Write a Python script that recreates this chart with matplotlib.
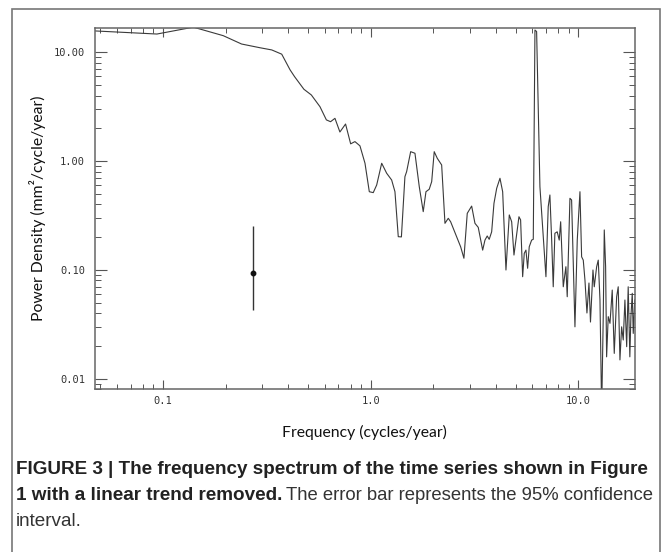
import matplotlib
matplotlib.use("Agg")
import matplotlib.pyplot as plt
from matplotlib.patches import Rectangle
from matplotlib.ticker import FixedLocator, LogLocator, NullFormatter
import numpy as np

# spectrum (cycles/year, mm^2/cycle/year)
freq = [0.0469, 0.0935, 0.140, 0.195, 0.239, 0.293, 0.334, 0.373, 0.409, 0.430,
        0.477, 0.518, 0.570, 0.612, 0.641, 0.673, 0.711, 0.757, 0.801, 0.840,
        0.888, 0.939, 0.985, 1.029, 1.069, 1.130, 1.194, 1.262, 1.309, 1.358,
        1.406, 1.462, 1.490, 1.558, 1.634, 1.714, 1.791, 1.846, 1.914, 1.967,
        2.023, 2.093, 2.197, 2.279, 2.364, 2.427, 2.594, 2.712, 2.812, 2.918,
        3.064, 3.178, 3.296, 3.462, 3.551, 3.641, 3.722, 3.825, 3.924, 4.044,
        4.194, 4.321, 4.482, 4.650, 4.775, 4.898, 5.176, 5.272, 5.393, 5.490,
        5.594, 5.699, 5.801, 5.958, 6.067, 6.181, 6.296, 6.531, 6.731, 6.982,
        7.161, 7.295, 7.44, 7.57, 7.71, 7.91, 8.09, 8.22, 8.46, 8.71,
        8.84, 9.11, 9.28, 9.45, 9.63, 9.88, 10.18, 10.37, 10.56, 10.76,
        11.00, 11.25, 11.44, 11.76, 11.93, 12.25, 12.47, 12.71, 12.95, 13.18,
        13.33, 13.53, 13.68, 13.93, 14.20, 14.56, 14.89, 15.29, 15.56, 15.86,
        16.16, 16.45, 16.76, 17.09, 17.38, 17.70, 17.91, 18.18, 18.38, 18.69]
power = [15.7, 14.7, 17.0, 14.2, 11.9, 11.0, 10.5, 9.6, 6.9, 5.97,
         4.57, 4.05, 3.16, 2.39, 2.30, 2.47, 1.85, 2.19, 1.44, 1.51,
         1.38, 0.955, 0.523, 0.513, 0.603, 0.955, 0.773, 0.670, 0.523, 0.202,
         0.201, 0.719, 0.800, 1.22, 1.18, 0.582, 0.343, 0.523, 0.551, 0.647,
         1.22, 1.06, 0.921, 0.268, 0.298, 0.277, 0.202, 0.163, 0.128, 0.331,
         0.386, 0.268, 0.246, 0.152, 0.188, 0.205, 0.191, 0.224, 0.409, 0.562,
         0.695, 0.523, 0.0998, 0.320, 0.277, 0.137, 0.308, 0.288, 0.0866, 0.142,
         0.152, 0.1035, 0.163, 0.188, 0.191, 16.0, 15.5, 0.582, 0.249, 0.0866,
         0.381, 0.488, 0.188, 0.070, 0.217, 0.224, 0.188, 0.277, 0.070, 0.107,
         0.0567, 0.455, 0.439, 0.115, 0.030, 0.188, 0.523, 0.132, 0.123, 0.0807,
         0.0402, 0.0758, 0.0332, 0.0998, 0.070, 0.107, 0.123, 0.0529, 0.005, 0.0372,
         0.233, 0.107, 0.0159, 0.0372, 0.0323, 0.0653, 0.0171, 0.0567, 0.070, 0.0149,
         0.030, 0.0227, 0.0529, 0.0197, 0.070, 0.0159, 0.0372, 0.061, 0.0261, 0.0529]

# 95% confidence error bar
err_f = 0.272
err_p = 0.093
err_lo = 0.0428
err_hi = 0.253

xticks = [0.1, 1.0, 10.0]
xticklabels = ["0.1", "1.0", "10.0"]
yticks = [0.01, 0.1, 1.0, 10.0]
yticklabels = ["0.01", "0.10", "1.00", "10.00"]

W, H = 668, 552
fig = plt.figure(figsize=(W / 100, H / 100), dpi=100)
ax = fig.add_axes([94.7 / W, 1 - 389.3 / H, (634.8 - 94.7) / W, (389.3 - 28) / H])

line_col = "#3a3a3a"
ax.plot(freq, power, color=line_col, lw=0.8)
ax.errorbar([err_f], [err_p], yerr=[[err_p - err_lo], [err_hi - err_p]],
            fmt="o", ms=3.2, color="#111111", ecolor="#333333", elinewidth=1.0, capsize=0)

ax.set_xscale("log")
ax.set_yscale("log")
ax.set_xlim(0.0469, 18.7)
ax.set_ylim(0.0080, 16.7)

ax.xaxis.set_major_locator(FixedLocator(xticks))
ax.set_xticklabels(xticklabels)
ax.yaxis.set_major_locator(FixedLocator(yticks))
ax.set_yticklabels(yticklabels)
ax.xaxis.set_minor_locator(LogLocator(base=10, subs=np.arange(2, 10)))
ax.yaxis.set_minor_locator(LogLocator(base=10, subs=np.arange(2, 10)))
ax.xaxis.set_minor_formatter(NullFormatter())
ax.yaxis.set_minor_formatter(NullFormatter())

for lab in ax.get_xticklabels() + ax.get_yticklabels():
    lab.set_fontfamily("DejaVu Sans Mono")
    lab.set_fontsize(7.5)
    lab.set_color("#333333")

ax.tick_params(axis="x", which="major", direction="in", length=6.3, width=0.8,
               top=True, bottom=True, pad=4.5, colors="#555555", labelcolor="#333333")
ax.tick_params(axis="x", which="minor", direction="in", length=3.3, width=0.7,
               top=True, bottom=True, colors="#555555")
ax.tick_params(axis="y", which="major", direction="in", length=8.5, width=0.8,
               left=True, right=True, pad=7, colors="#555555", labelcolor="#333333")
ax.tick_params(axis="y", which="minor", direction="in", length=4.0, width=0.7,
               left=True, right=True, colors="#555555")
for sp in ax.spines.values():
    sp.set_color("#666666")
    sp.set_linewidth(1.1)

label_font = ["Lato", "DejaVu Sans"]
fig.text(364.75 / W, 1 - 432 / H, "Frequency (cycles/year)", family=label_font,
         fontsize=11.3, ha="center", va="center", color="#111111")
fig.text(38 / W, 1 - 208.6 / H, "Power Density (mm²/cycle/year)", family=label_font,
         fontsize=11.3, ha="center", va="center", rotation=90, color="#111111")

# outer frame
fig.patches.append(Rectangle((12.5 / W, -0.02), (660 - 12.5) / W, 1.02 - 9 / H,
                             transform=fig.transFigure, fill=False,
                             edgecolor="#777777", lw=1.2))

cap_font = ["Liberation Sans", "DejaVu Sans"]
cap_size = 13.6
x0 = 16 / W
fig.text(x0, 1 - 470 / H,
         "FIGURE 3 | The frequency spectrum of the time series shown in Figure",
         family=cap_font, fontsize=cap_size, fontweight="bold", va="center", color="#222222")
b2 = fig.text(x0, 1 - 496 / H, "1 with a linear trend removed.",
              family=cap_font, fontsize=cap_size, fontweight="bold", va="center", color="#222222")
fig.canvas.draw()
rend = fig.canvas.get_renderer()
bb = b2.get_window_extent(rend)
rest = fig.text(bb.x1 / W + 4 / W, 1 - 496 / H,
                "The error bar represents the 95% confidence",
                family=cap_font, fontsize=cap_size, va="center", color="#333333")
# squeeze the regular part so the line ends where the reference line ends
rw = rest.get_window_extent(rend).width
room = 653 - (bb.x1 + 4)
if rw > room:
    rest.set_fontsize(cap_size * room / rw)
fig.text(x0, 1 - 521 / H, "interval.", family=cap_font, fontsize=cap_size,
         va="center", color="#333333")

fig.savefig("out.png", dpi=100)
